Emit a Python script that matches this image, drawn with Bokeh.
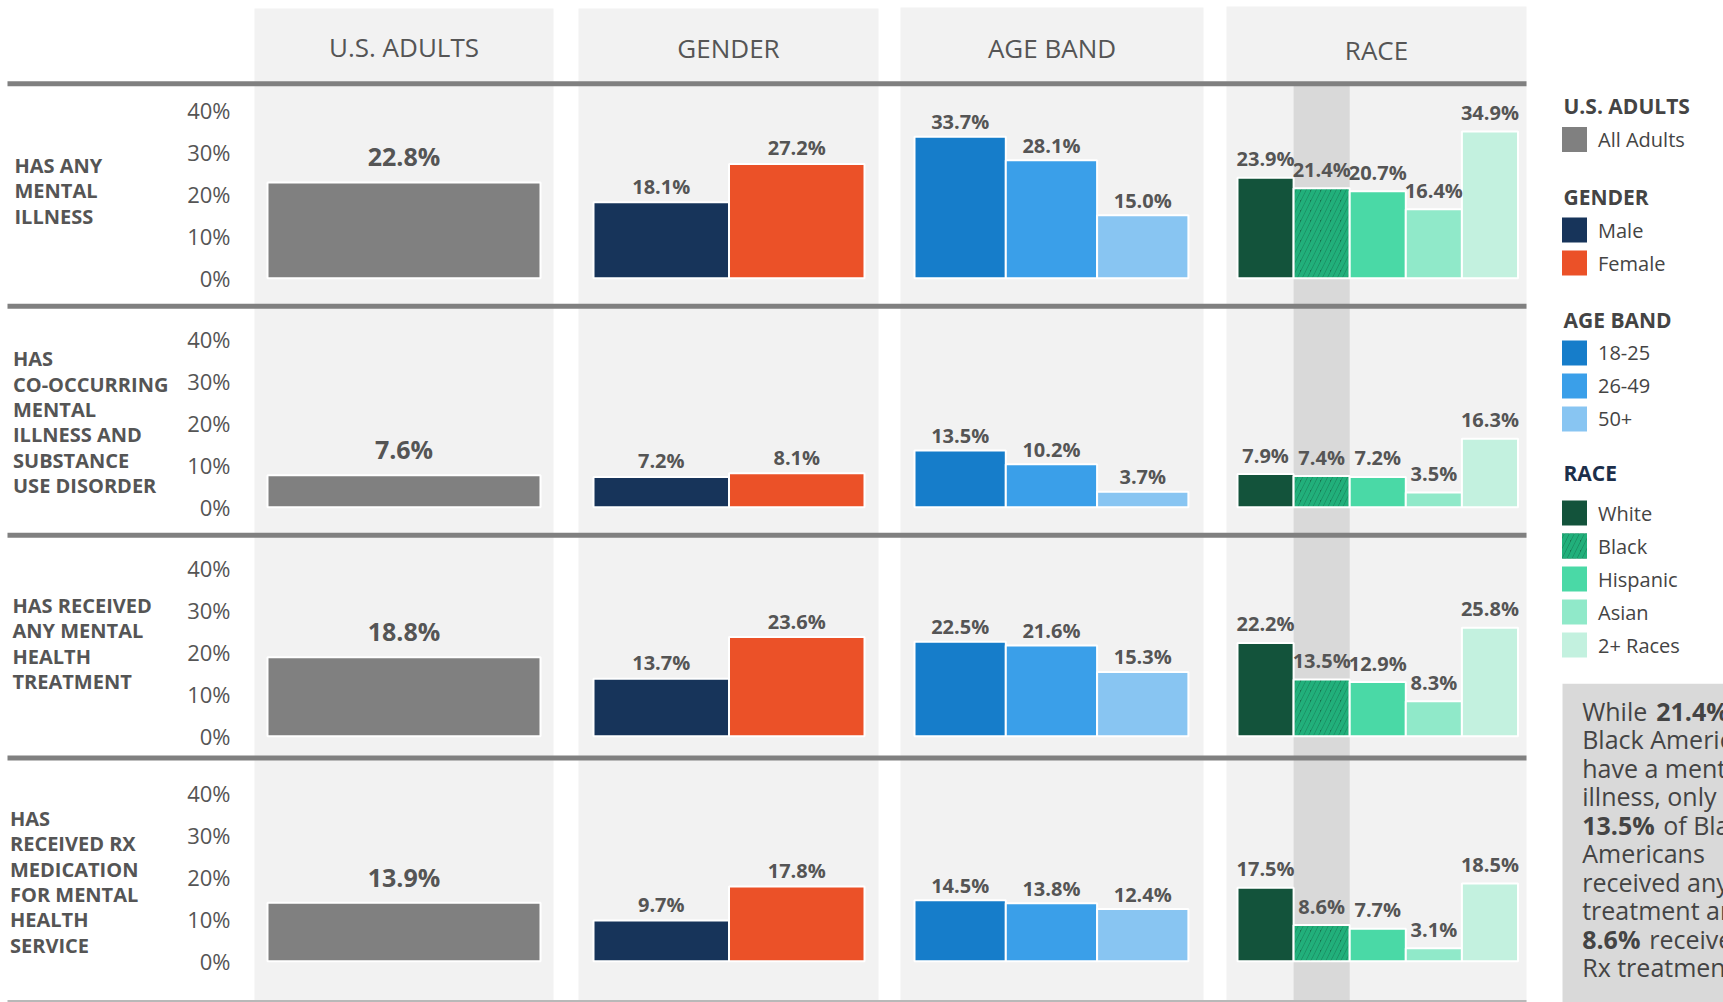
from bokeh.plotting import figure
from bokeh.models import Range1d, ColumnDataSource
from bokeh.core.properties import value
from bokeh.embed import file_html
from bokeh.resources import INLINE

# ---------------- data ----------------
row_labels = [
    ["HAS ANY", "MENTAL", "ILLNESS"],
    ["HAS", "CO-OCCURRING", "MENTAL", "ILLNESS AND", "SUBSTANCE", "USE DISORDER"],
    ["HAS RECEIVED", "ANY MENTAL", "HEALTH", "TREATMENT"],
    ["HAS", "RECEIVED RX", "MEDICATION", "FOR MENTAL", "HEALTH", "SERVICE"],
]
group_titles = ["U.S. ADULTS", "GENDER", "AGE BAND", "RACE"]

us_cats = ["All Adults"]
gender_cats = ["Male", "Female"]
age_cats = ["18-25", "26-49", "50+"]
race_cats = ["White", "Black", "Hispanic", "Asian", "2+ Races"]

us_values = [[22.8], [7.6], [18.8], [13.9]]
gender_values = [[18.1, 27.2], [7.2, 8.1], [13.7, 23.6], [9.7, 17.8]]
age_values = [[33.7, 28.1, 15.0], [13.5, 10.2, 3.7], [22.5, 21.6, 15.3], [14.5, 13.8, 12.4]]
race_values = [[23.9, 21.4, 20.7, 16.4, 34.9],
               [7.9, 7.4, 7.2, 3.5, 16.3],
               [22.2, 13.5, 12.9, 8.3, 25.8],
               [17.5, 8.6, 7.7, 3.1, 18.5]]

y_ticks = [0, 10, 20, 30, 40]
y_tick_labels = ["0%", "10%", "20%", "30%", "40%"]

us_colors = ["#808080"]
gender_colors = ["#17345a", "#eb5128"]
age_colors = ["#167dca", "#3a9fe9", "#88c5f2"]
race_colors = ["#13533b", "#177550", "#4ad9a6", "#90e9c9", "#c3f1df"]
race_hatch = [" ", "/", " ", " ", " "]
highlight = "Black"

# callout text: (segment, weight, pixel offset from line start)
callout_lines = [
    [("While", "normal", 0), ("21.4%", "bold", 74), ("of", "normal", 155)],
    [("Black Americans", "normal", 0)],
    [("have a mental", "normal", 0)],
    [("illness, only", "normal", 0)],
    [("13.5%", "bold", 0), ("of Black", "normal", 81)],
    [("Americans", "normal", 0)],
    [("received any", "normal", 0)],
    [("treatment and", "normal", 0)],
    [("8.6%", "bold", 0), ("received", "normal", 67)],
    [("Rx treatment", "normal", 0)],
]

# ---------------- layout ----------------
W, H = 1723, 1002
K = 4.2                      # pixels per percentage point
FONT = value("Open Sans")
TXT = "#555555"
row_base = [277.7, 506.7, 735.7, 960.7]
row_label_mid = [190.3, 421.7, 642.8, 881.2]
row_label_x = [14, 12.5, 12, 9.5]
LINE_H = 25.4
sep_y = [83.3, 305.8, 534.8, 757.5]

panel_lr = [(254, 553), (578, 878), (900, 1203), (1226, 1526)]
panel_top = [8, 8, 7, 6]
bar_left = [267, 593, 914, 1237]
bar_unit = [273, 135.5, 91.3, 56.1]
header_y = [46.7, 47.5, 47.5, 49.3]
label_gap = [26, 16, 15, 19]
label_size = ["25px", "20px", "20px", "20px"]

p = figure(width=W, height=H, x_range=Range1d(0, W), y_range=Range1d(H, 0),
           min_border=0, x_axis_location=None, y_axis_location=None,
           toolbar_location=None, output_backend="svg")
p.outline_line_color = None
p.xgrid.visible = False
p.ygrid.visible = False
p.background_fill_color = "white"
p.border_fill_color = "white"

names = ["us", "gender", "age", "race"]
xr = {}
for n, l, u in zip(names, bar_left, bar_unit):
    s = -(l / u + 0.5)
    xr[n] = Range1d(start=s, end=s + W / u)
yr = {}
for r, b in enumerate(row_base):
    yr[f"row{r}"] = Range1d(start=(b - H) / K, end=b / K)
p.extra_x_ranges = xr
p.extra_y_ranges = yr

# panel backgrounds
p.quad(left=[a for a, b in panel_lr], right=[b for a, b in panel_lr],
       top=panel_top, bottom=[H] * 4, fill_color="#f2f2f2", line_color=None)

# highlighted column behind Black bars
bi = race_cats.index(highlight)
p.quad(left=[bi - 0.5], right=[bi + 0.5], top=[sep_y[0]], bottom=[H],
       fill_color="#d9d9d9", line_color=None, x_range_name="race")

# separator lines
p.segment(x0=[7] * 4, x1=[panel_lr[-1][1]] * 4, y0=sep_y, y1=sep_y,
          line_color="#808080", line_width=5)
p.segment(x0=[7], x1=[panel_lr[-1][1]], y0=[1000.5], y1=[1000.5],
          line_color="#b8b8b8", line_width=2)

# headers
p.text(x=[(a + b) / 2 for a, b in panel_lr], y=header_y, text=group_titles,
       text_font=FONT, text_font_size="26px", text_color=TXT,
       text_align="center", text_baseline="middle")

# rows
groups = [
    ("us", us_cats, us_values, us_colors, [" "]),
    ("gender", gender_cats, gender_values, gender_colors, [" "] * 2),
    ("age", age_cats, age_values, age_colors, [" "] * 3),
    ("race", race_cats, race_values, race_colors, race_hatch),
]
for r in range(4):
    yname = f"row{r}"
    lines = row_labels[r]
    n = len(lines)
    p.text(x=[row_label_x[r]] * n,
           y=[row_label_mid[r] + (i - (n - 1) / 2) * LINE_H for i in range(n)],
           text=lines, text_font=FONT, text_font_style="bold",
           text_font_size="20px", text_color=TXT,
           text_align="left", text_baseline="middle")
    p.text(x=[230] * len(y_ticks), y=y_ticks, text=y_tick_labels,
           text_font=FONT, text_font_size="22px", text_color=TXT,
           text_align="right", text_baseline="middle", y_range_name=yname)
    for g, (xname, cats, vals, cols, hatch) in enumerate(groups):
        v = vals[r]
        src = ColumnDataSource(dict(x=list(range(len(cats))), top=v,
                                    color=cols, hatch=hatch,
                                    label=[f"{val:.1f}%" for val in v]))
        p.vbar(x="x", top="top", bottom=0, width=1, source=src,
               fill_color="color", line_color="white", line_width=2,
               hatch_pattern="hatch", hatch_color="#21b07b",
               hatch_weight=4, hatch_scale=10,
               x_range_name=xname, y_range_name=yname)
        p.text(x="x", y="top", text="label", source=src,
               text_font=FONT, text_font_style="bold",
               text_font_size=label_size[g], text_color=TXT,
               text_align="center", text_baseline="alphabetic",
               y_offset=-label_gap[g],
               x_range_name=xname, y_range_name=yname)

# ---------------- legend ----------------
leg_x_sw = 1574
leg_x_txt = 1597.5
leg_title_x = 1563
leg_groups = [
    ("U.S. ADULTS", 105.3, 139, us_cats, us_colors, [" "], "#444444"),
    ("GENDER", 196.7, 229.5, gender_cats, gender_colors, [" "] * 2, "#444444"),
    ("AGE BAND", 319.3, 352.5, age_cats, age_colors, [" "] * 3, "#444444"),
    ("RACE", 472.3, 512.5, race_cats, race_colors, race_hatch, "#1c2e4a"),
]
STEP = 33
for title, ty, y0, cats, cols, hatch, tcol in leg_groups:
    p.text(x=[leg_title_x], y=[ty], text=[title], text_font=FONT,
           text_font_style="bold", text_font_size="21px", text_color=tcol,
           text_align="left", text_baseline="middle")
    ys = [y0 + i * STEP for i in range(len(cats))]
    p.rect(x=[leg_x_sw] * len(cats), y=ys, width=25, height=25,
           fill_color=cols, line_color=None, hatch_pattern=hatch,
           hatch_color="#21b07b", hatch_weight=4, hatch_scale=10)
    p.text(x=[leg_x_txt] * len(cats), y=ys, text=cats, text_font=FONT,
           text_font_size="20px", text_color="#444444",
           text_align="left", text_baseline="middle")

# ---------------- callout ----------------
p.quad(left=[1562], right=[W], top=[683.3], bottom=[H],
       fill_color="#d9d9d9", line_color=None)
for i, segs in enumerate(callout_lines):
    y = 710 + i * 28.5
    for txt, style, off in segs:
        p.text(x=[1581.7], y=[y], text=[txt], x_offset=off,
               text_font=FONT, text_font_style=style, text_font_size="25px",
               text_color="#444444", text_align="left",
               text_baseline="middle")

open("out.html", "w").write(file_html(p, INLINE))
